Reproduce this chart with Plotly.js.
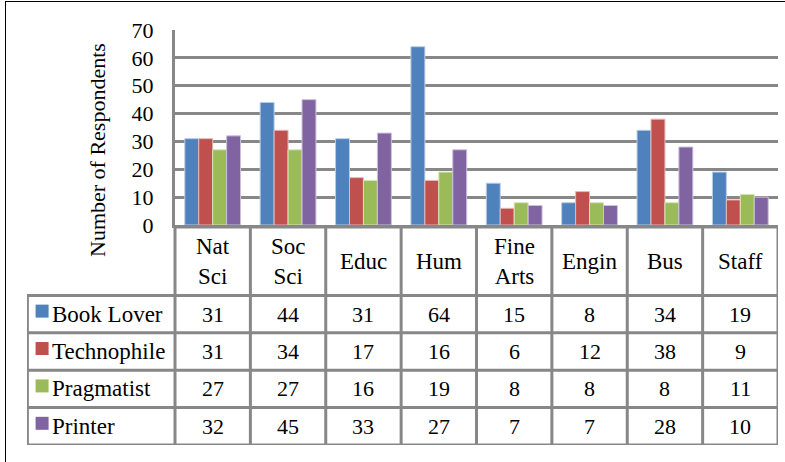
<!DOCTYPE html>
<html>
<head>
<meta charset="utf-8">
<script src="https://cdn.plot.ly/plotly-3.0.1.min.js"></script>
<style>
html,body{margin:0;padding:0;background:#fff;}
#frame{position:absolute;left:5px;top:1px;width:800px;height:480px;border-left:1.5px solid #000;border-top:1.5px solid #000;pointer-events:none;}
#chart{position:absolute;left:0;top:0;width:785px;height:462px;}
</style>
</head>
<body>
<div id="chart"></div>
<div id="frame"></div>
<script>
// ---- data ----
const categories = ["Nat<br>Sci", "Soc<br>Sci", "Educ", "Hum", "Fine<br>Arts", "Engin", "Bus", "Staff"];
const seriesNames = ["Book Lover", "Technophile", "Pragmatist", "Printer"];
const bookLover   = [31, 44, 31, 64, 15, 8, 34, 19];
const technophile = [31, 34, 17, 16, 6, 12, 38, 9];
const pragmatist  = [27, 27, 16, 19, 8, 8, 8, 11];
const printer     = [32, 45, 33, 27, 7, 7, 28, 10];
const yTicks = [0, 10, 20, 30, 40, 50, 60, 70];

const seriesValues = [bookLover, technophile, pragmatist, printer];
const colors = ["#4F81BD", "#C0504D", "#9BBB59", "#8064A2"];
const outline = ["#B9CDE5", "#E6B9B8", "#D7E4BD", "#CCC1DA"];

// ---- layout geometry ----
const W = 785, H = 462;
const mL = 27, mR = 7, mT = 30, mB = 17;
const plotW = W - mL - mR, plotH = H - mT - mB;
const barLeftPx = 175;
const barBottomPx = 225;
const tableTopPx = 227;
const d0 = (barLeftPx - mL) / plotW;
const nCat = categories.length;
const x2min = -0.5 - d0 * nCat / (1 - d0);
const headerH = 1.83;
const nRows = seriesNames.length;
const tableBottom = headerH + nRows;

const fontFam = "Liberation Serif";
const gridCol = "#878787";

const xs = categories.map((c, i) => i);
const traces = seriesNames.map((name, s) => ({
  type: "bar",
  name: name,
  x: xs,
  y: seriesValues[s],
  xaxis: "x",
  yaxis: "y",
  marker: { color: colors[s], line: { color: outline[s], width: 1 } },
  hoverinfo: "skip"
}));

// legend keys in table
traces.push({
  type: "scatter",
  mode: "markers",
  x: seriesNames.map(() => x2min + 0.2),
  y: seriesNames.map((n, s) => headerH + s + 0.42),
  xaxis: "x2",
  yaxis: "y2",
  marker: { symbol: "square", size: 13, color: colors, line: { width: 0 } },
  hoverinfo: "skip",
  showlegend: false
});

const shapes = [];
const annotations = [];
const lw = 3;
for (let k = 0; k <= nCat; k++) {
  shapes.push({ type: "line", xref: "x2", yref: "y2", x0: k - 0.5, x1: k - 0.5, y0: -0.03, y1: tableBottom,
    line: { color: gridCol, width: lw } });
}
shapes.push({ type: "line", xref: "x2", yref: "y2", x0: x2min + 0.005, x1: x2min + 0.005, y0: headerH, y1: tableBottom,
  line: { color: gridCol, width: lw } });
for (let r = 0; r <= nRows; r++) {
  shapes.push({ type: "line", xref: "x2", yref: "y2", x0: x2min, x1: nCat - 0.5, y0: headerH + r, y1: headerH + r,
    line: { color: gridCol, width: lw } });
}
shapes.push({ type: "line", xref: "x2", yref: "y2", x0: -0.5, x1: nCat - 0.5, y0: 0, y1: 0,
  line: { color: gridCol, width: lw } });

const txtFont = (sz) => ({ family: fontFam, size: sz, color: "#000" });

categories.forEach((c, i) => {
  annotations.push({ xref: "x2", yref: "y2", x: i, y: headerH / 2, text: c, showarrow: false,
    font: txtFont(23), xanchor: "center", yanchor: "middle" });
});
seriesNames.forEach((n, s) => {
  annotations.push({ xref: "x2", yref: "y2", x: x2min + 0.3, y: headerH + s + 0.5, text: n, showarrow: false,
    font: txtFont(23), xanchor: "left", yanchor: "middle" });
  seriesValues[s].forEach((v, i) => {
    annotations.push({ xref: "x2", yref: "y2", x: i, y: headerH + s + 0.5, text: String(v), showarrow: false,
      font: txtFont(22), xanchor: "center", yanchor: "middle" });
  });
});
annotations.push({ xref: "paper", yref: "paper", x: (97 - mL) / plotW, y: (H - mB - 150) / plotH,
  text: "Number of Respondents", textangle: -90, showarrow: false,
  font: txtFont(22), xanchor: "center", yanchor: "middle" });

const yDomLow = (H - mB - barBottomPx) / plotH;
const y2DomHigh = (H - mB - tableTopPx) / plotH;

const layout = {
  width: W, height: H,
  margin: { l: mL, r: mR, t: mT, b: mB, pad: 0 },
  paper_bgcolor: "rgba(0,0,0,0)",
  plot_bgcolor: "rgba(0,0,0,0)",
  showlegend: false,
  barmode: "group",
  bargap: 0.26,
  bargroupgap: 0,
  xaxis: { domain: [d0, 1], range: [-0.5, nCat - 0.5], showticklabels: false, ticks: "",
    showgrid: false, zeroline: false, showline: true, linecolor: gridCol, linewidth: 3, anchor: "y", fixedrange: true },
  yaxis: { domain: [yDomLow, 1], range: [0, 70], tickvals: yTicks, ticktext: yTicks.map(String),
    showgrid: true, gridcolor: gridCol, gridwidth: 3, zeroline: false, showline: true, linecolor: gridCol, linewidth: 3,
    ticks: "", ticklabelstandoff: 14, tickfont: txtFont(22), anchor: "x", fixedrange: true },
  xaxis2: { domain: [0, 1], range: [x2min, nCat - 0.5], visible: false, anchor: "y2", fixedrange: true },
  yaxis2: { domain: [0, y2DomHigh], range: [tableBottom, 0], visible: false, anchor: "x2", fixedrange: true },
  shapes: shapes,
  annotations: annotations,
  font: { family: fontFam, color: "#000" }
};

Plotly.newPlot("chart", traces, layout, { staticPlot: true, displayModeBar: false });
</script>
</body>
</html>
